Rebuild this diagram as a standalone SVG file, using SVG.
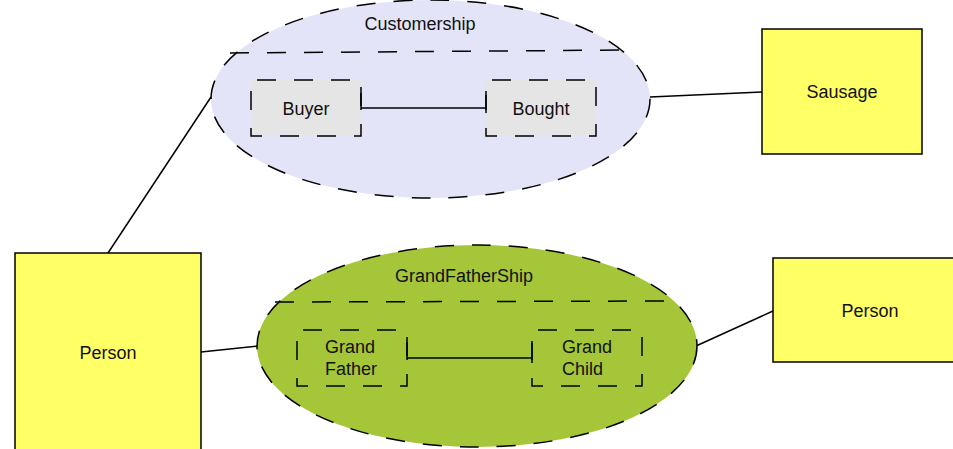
<svg xmlns="http://www.w3.org/2000/svg" width="953" height="449" viewBox="0 0 953 449">
  <style>
    .lbl { font-family: "Liberation Sans", Arial, sans-serif; font-size: 18px; fill: #111; }
    .mid { text-anchor: middle; }
    .entity { fill: #ffff66; stroke: #000; stroke-width: 1.5; }
    .dash { stroke: #000; stroke-width: 1.5; stroke-dasharray: 19 18; }
    .conn { stroke: #000; stroke-width: 1.5; fill: none; }
  </style>

  <!-- connectors between entities and relationships -->
  <g id="connectors">
    <line class="conn" x1="108" y1="253" x2="211" y2="97"/>
    <line class="conn" x1="650" y1="97" x2="762" y2="92"/>
    <line class="conn" x1="201" y1="352" x2="258" y2="346"/>
    <line class="conn" x1="696" y1="346" x2="773" y2="311"/>
  </g>

  <!-- relationship: Customership -->
  <g id="customership">
    <ellipse class="dash" cx="430.5" cy="99" rx="219.5" ry="99" fill="#e4e4f8"/>
    <line class="dash" x1="230" y1="53" x2="628" y2="50" fill="none"/>
    <text class="lbl mid" x="420" y="30">Customership</text>
    <g id="buyer">
      <rect class="dash" x="251" y="80" width="110" height="56" fill="#e5e5e5" stroke-dashoffset="-6"/>
      <text class="lbl mid" x="306" y="115">Buyer</text>
    </g>
    <g id="bought">
      <rect class="dash" x="486" y="80" width="110" height="56" fill="#e5e5e5" stroke-dashoffset="-6"/>
      <text class="lbl mid" x="541" y="115">Bought</text>
    </g>
    <g id="buyer-bought">
      <line class="conn" x1="361" y1="108" x2="486" y2="108"/>
      <line class="conn" x1="361" y1="93" x2="361" y2="110"/>
      <line class="conn" x1="486" y1="95" x2="486" y2="113"/>
    </g>
  </g>

  <!-- relationship: GrandFatherShip -->
  <g id="grandfathership">
    <ellipse class="dash" cx="477" cy="346" rx="220" ry="101" fill="#a4c638"/>
    <line class="dash" x1="275" y1="302" x2="672" y2="301" fill="none"/>
    <text class="lbl mid" x="464" y="282">GrandFatherShip</text>
    <g id="grand-father">
      <rect class="dash" x="297" y="330" width="110" height="56" fill="none" stroke-dashoffset="-6"/>
      <text class="lbl" x="325" y="353">Grand</text>
      <text class="lbl" x="325" y="375">Father</text>
    </g>
    <g id="grand-child">
      <rect class="dash" x="532" y="330" width="110" height="56" fill="none" stroke-dashoffset="-6"/>
      <text class="lbl" x="562" y="353">Grand</text>
      <text class="lbl" x="562" y="375">Child</text>
    </g>
    <g id="father-child">
      <line class="conn" x1="407" y1="358" x2="532" y2="358"/>
      <line class="conn" x1="407" y1="342" x2="407" y2="360"/>
      <line class="conn" x1="532" y1="343" x2="532" y2="363"/>
    </g>
  </g>

  <!-- entities -->
  <g id="person-left">
    <rect class="entity" x="15" y="253" width="186" height="210"/>
    <text class="lbl mid" x="108" y="359">Person</text>
  </g>
  <g id="sausage">
    <rect class="entity" x="762" y="29" width="160" height="125"/>
    <text class="lbl mid" x="842" y="98">Sausage</text>
  </g>
  <g id="person-right">
    <rect class="entity" x="773" y="258" width="200" height="104"/>
    <text class="lbl mid" x="870" y="317">Person</text>
  </g>
</svg>
